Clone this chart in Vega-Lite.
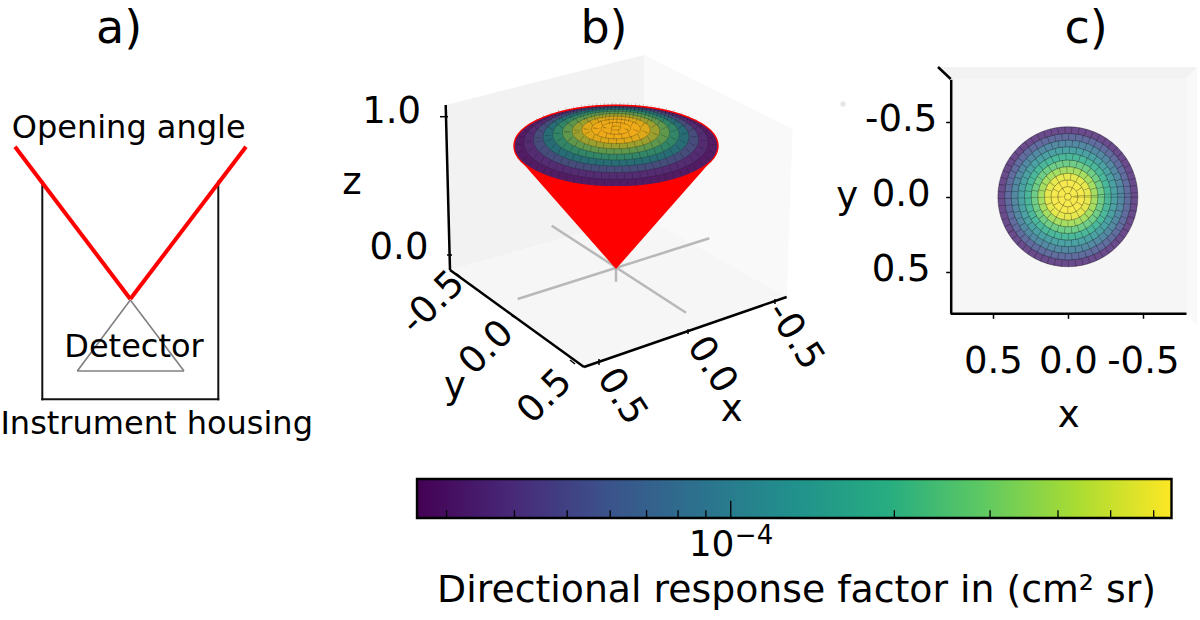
{
"$schema":"https://vega.github.io/schema/vega-lite/v6.json",
"width":1200,"height":620,"padding":0,"autosize":{"type":"fit","contains":"padding"},"background":"white",
"config":{"view":{"stroke":null},"text":{"font":"DejaVu Sans"},"axis":{"labelFont":"DejaVu Sans","titleFont":"DejaVu Sans"}},
"datasets":{
"panes":[
{"pane":"bL","x":445.7,"y":105,"y2":105},{"pane":"bL","x":450,"y":103.9,"y2":270},{"pane":"bL","x":644,"y":55,"y2":216},
{"pane":"bF","x":450,"y":270,"y2":270},{"pane":"bF","x":584,"y":232.7,"y2":367},{"pane":"bF","x":644,"y":216,"y2":346.3},{"pane":"bF","x":786.7,"y":297,"y2":297},
{"pane":"bR","x":644,"y":55,"y2":216},{"pane":"bR","x":786.7,"y":126,"y2":297},{"pane":"bR","x":792.7,"y":129,"y2":129},
{"pane":"cT","x":938,"y":67,"y2":67},{"pane":"cT","x":950,"y":67,"y2":79},{"pane":"cT","x":1186,"y":67,"y2":79},{"pane":"cT","x":1197,"y":67,"y2":67},
{"pane":"cR","x":1186,"y":79,"y2":313},{"pane":"cR","x":1197,"y":67,"y2":325},
{"pane":"cF","x":950,"y":79,"y2":313},{"pane":"cF","x":1186,"y":79,"y2":313}
],
"cone":[{"x":520,"y":160,"y2":160},{"x":616,"y":160,"y2":269},{"x":712,"y":160,"y2":160}],
"rings":[
{"ring":1,"rho":0.4667,"mid":0.4447,"z":0.8725,"zmid":0.8847,"v":3.65e-5},
{"ring":2,"rho":0.4223,"mid":0.4,"z":0.8969,"zmid":0.9075,"v":5.35e-5},
{"ring":3,"rho":0.378,"mid":0.356,"z":0.9182,"zmid":0.9275,"v":8.37e-5},
{"ring":4,"rho":0.3337,"mid":0.3113,"z":0.9368,"zmid":0.9448,"v":1.23e-4},
{"ring":5,"rho":0.2893,"mid":0.2673,"z":0.9528,"zmid":0.9596,"v":1.8e-4},
{"ring":6,"rho":0.245,"mid":0.2227,"z":0.9664,"zmid":0.972,"v":2.64e-4},
{"ring":7,"rho":0.2007,"mid":0.1787,"z":0.9775,"zmid":0.982,"v":3.88e-4},
{"ring":8,"rho":0.1563,"mid":0.134,"z":0.9864,"zmid":0.9898,"v":5.69e-4},
{"ring":9,"rho":0.112,"mid":0.09,"z":0.9931,"zmid":0.9953,"v":6.26e-4},
{"ring":10,"rho":0.0677,"mid":0.0453,"z":0.9975,"zmid":0.9986,"v":6.3e-4},
{"ring":11,"rho":0.0233,"mid":null,"z":0.9997,"zmid":null,"v":6.3e-4}
],
"cbTicks":[
{"v":3e-5,"b":0,"len":0.2},{"v":4e-5,"b":0,"len":0.2},{"v":5e-5,"b":0,"len":0.2},{"v":6e-5,"b":0,"len":0.2},{"v":7e-5,"b":0,"len":0.2},{"v":8e-5,"b":0,"len":0.2},{"v":9e-5,"b":0,"len":0.2},
{"v":1e-4,"b":0,"len":0.44},{"v":2e-4,"b":0,"len":0.2},{"v":3e-4,"b":0,"len":0.2},{"v":4e-4,"b":0,"len":0.2},{"v":5e-4,"b":0,"len":0.2},{"v":6e-4,"b":0,"len":0.2}
]
},
"resolve":{"scale":{"x":"independent","y":"independent","color":"independent","size":"independent"}},
"layer":[
{
"encoding":{
"x":{"field":"x","type":"quantitative","axis":null,"scale":{"domain":[0,1200],"range":[0,1200],"nice":false,"zero":false}},
"y":{"field":"y","type":"quantitative","axis":null,"scale":{"domain":[0,620],"range":[0,620],"nice":false,"zero":false}}
},
"layer":[
{"data":{"name":"panes"},"mark":{"type":"area","orient":"vertical","interpolate":"linear"},
 "encoding":{"y2":{"field":"y2"},"color":{"field":"pane","type":"nominal","legend":null,"scale":{"domain":["bL","bF","bR","cT","cR","cF"],"range":["#f2f2f2","#f6f6f6","#f9f9f9","#f2f2f2","#f9f9f9","#f6f6f6"]}}}},
{"data":{"values":[{"x":843,"y":104}]},"mark":{"type":"point","filled":true,"color":"#e6e6e6","size":28,"opacity":1}},
{"data":{"values":[{"x":42.3,"y":181.7,"x2":42.3,"y2":399.3},{"x":42.3,"y":399.3,"x2":218.3,"y2":399.3},{"x":218.3,"y":399.3,"x2":218.3,"y2":181.7}]},
 "mark":{"type":"rule","color":"#111111","strokeWidth":2,"strokeCap":"square"},"encoding":{"x2":{"field":"x2"},"y2":{"field":"y2"}}},
{"data":{"values":[{"x":130.3,"y":300,"x2":77.3,"y2":371},{"x":77.3,"y":371,"x2":184,"y2":371},{"x":184,"y":371,"x2":130.3,"y2":300}]},
 "mark":{"type":"rule","color":"#808080","strokeWidth":1.6},"encoding":{"x2":{"field":"x2"},"y2":{"field":"y2"}}},
{"data":{"values":[{"x":15,"y":146.7,"x2":130.3,"y2":299},{"x":130.3,"y":299,"x2":246,"y2":146.7}]},
 "mark":{"type":"rule","color":"#ff0000","strokeWidth":4},"encoding":{"x2":{"field":"x2"},"y2":{"field":"y2"}}},
{"data":{"values":[{"x":517.7,"y":299,"x2":709.3,"y2":238.3},{"x":551.7,"y":225.7,"x2":686,"y2":312.7},{"x":616,"y":269,"x2":616,"y2":281.7}]},
 "mark":{"type":"rule","color":"#b8b8b8","strokeWidth":2.5},"encoding":{"x2":{"field":"x2"},"y2":{"field":"y2"}}},
{"data":{"values":[{"x":445.7,"y":105,"x2":450,"y2":270},{"x":450,"y":270,"x2":584,"y2":367},{"x":584,"y":367,"x2":786.7,"y2":297},{"x":938,"y":67,"x2":950.7,"y2":79}]},
 "mark":{"type":"rule","color":"#000000","strokeWidth":2.5},"encoding":{"x2":{"field":"x2"},"y2":{"field":"y2"}}},
{"data":{"values":[{"x":440,"y":116.7,"x2":448,"y2":116.7},{"x":447,"y":255,"x2":452,"y2":255},{"x":456,"y":273.5,"x2":460,"y2":276.5},{"x":511.7,"y":315.7,"x2":516.7,"y2":318.3},{"x":570,"y":360,"x2":575,"y2":364},{"x":599,"y":359,"x2":599,"y2":365},{"x":688,"y":329.3,"x2":688,"y2":334},{"x":775,"y":299,"x2":775,"y2":304}]},
 "mark":{"type":"rule","color":"#000000","strokeWidth":1.5},"encoding":{"x2":{"field":"x2"},"y2":{"field":"y2"}}},
{"data":{"name":"cone"},"mark":{"type":"area","orient":"vertical","color":"#ff0000","interpolate":"linear"},"encoding":{"y2":{"field":"y2"}}},
{"data":{"values":[{"x":119,"y":43,"t":"a)"},{"x":604,"y":43,"t":"b)"},{"x":1086,"y":43,"t":"c)"}]},
 "mark":{"type":"text","fontSize":46,"align":"center","baseline":"alphabetic","color":"#000"},"encoding":{"text":{"field":"t"}}},
{"data":{"values":[{"x":128.7,"y":138.3,"t":"Opening angle"},{"x":134,"y":356.7,"t":"Detector"},{"x":156.7,"y":434.3,"t":"Instrument housing"}]},
 "mark":{"type":"text","fontSize":32,"align":"center","baseline":"alphabetic","color":"#000"},"encoding":{"text":{"field":"t"}}},
{"data":{"values":[{"x":391.7,"y":111.7,"t":"1.0"},{"x":399,"y":248,"t":"0.0"},{"x":352,"y":183,"t":"z"},{"x":455,"y":386.7,"t":"y"},{"x":731.7,"y":410,"t":"x"}]},
 "mark":{"type":"text","fontSize":37,"align":"center","baseline":"middle","color":"#000"},"encoding":{"text":{"field":"t"}}},
{"data":{"values":[{"x":711.6,"y":545,"t":"10"}]},
 "mark":{"type":"text","fontSize":36,"align":"center","baseline":"middle","color":"#000"},"encoding":{"text":{"field":"t"}}},
{"data":{"values":[{"x":433,"y":303,"t":"-0.5"},{"x":486.7,"y":348,"t":"0.0"},{"x":545,"y":396.7,"t":"0.5"}]},
 "mark":{"type":"text","fontSize":37,"angle":315,"align":"center","baseline":"middle","color":"#000"},"encoding":{"text":{"field":"t"}}},
{"data":{"values":[{"x":621.7,"y":396.7,"t":"0.5"},{"x":711.7,"y":365,"t":"0.0"},{"x":795,"y":336,"t":"-0.5"}]},
 "mark":{"type":"text","fontSize":37,"angle":57,"align":"center","baseline":"middle","color":"#000"},"encoding":{"text":{"field":"t"}}},
{"data":{"values":[{"x":754,"y":536,"t":"−4"}]},
 "mark":{"type":"text","fontSize":26,"align":"center","baseline":"middle","color":"#000"},"encoding":{"text":{"field":"t"}}},
{"data":{"values":[{"x":796.5,"y":591,"t":"Directional response factor in (cm² sr)"}]},
 "mark":{"type":"text","fontSize":37.8,"align":"center","baseline":"middle","color":"#000"},"encoding":{"text":{"field":"t"}}}
]
},
{
"data":{"name":"rings"},
"encoding":{
"x":{"datum":0,"type":"quantitative","axis":null,"scale":{"domain":[-1,1],"range":[466,766],"nice":false,"zero":false}}
},
"layer":[
{"mark":{"type":"point","shape":"M-1,0A1,0.4 0 1,1 1,0A1,0.4 0 1,1 -1,0Z","filled":true,"opacity":1,"strokeWidth":0},
 "encoding":{
 "y":{"field":"z","type":"quantitative","axis":null,"scale":{"domain":[0,1],"range":[269,128],"nice":false,"zero":false}},
 "size":{"field":"rho","type":"quantitative","legend":null,"scale":{"type":"pow","exponent":2,"domain":[0,0.4667],"range":[0,41616]}},
 "color":{"field":"v","type":"quantitative","legend":null,"scale":{"type":"log","domain":[2.65e-5,3.95e-5,5.89e-5,8.78e-5,1.309e-4,1.952e-4,2.911e-4,4.34e-4,6.47e-4],"range":["#4a1058","#55206a","#543075","#46507a","#2f7070","#3a8a62","#6e9a45","#b0a028","#f4aa18"]}},
 "order":{"field":"ring","type":"quantitative"}}},
{"transform":[{"filter":"datum.mid != null"}],
 "mark":{"type":"point","shape":"M-1,0A1,0.4 0 1,1 1,0A1,0.4 0 1,1 -1,0Z","filled":false,"color":"#101010","strokeWidth":6,"strokeDash":[0.7,7],"opacity":0.3},
 "encoding":{
 "y":{"field":"zmid","type":"quantitative","axis":null,"scale":{"domain":[0,1],"range":[269,128],"nice":false,"zero":false}},
 "size":{"field":"mid","type":"quantitative","legend":null,"scale":{"type":"pow","exponent":2,"domain":[0,0.4667],"range":[0,41616]}}}},
{"mark":{"type":"point","shape":"M-1,0A1,0.4 0 1,1 1,0A1,0.4 0 1,1 -1,0Z","filled":false,"color":"#101010","strokeWidth":0.8,"opacity":0.3},
 "encoding":{
 "y":{"field":"z","type":"quantitative","axis":null,"scale":{"domain":[0,1],"range":[269,128],"nice":false,"zero":false}},
 "size":{"field":"rho","type":"quantitative","legend":null,"scale":{"type":"pow","exponent":2,"domain":[0,0.4667],"range":[0,41616]}}}},
{"transform":[{"filter":"datum.ring == 1"}],
 "mark":{"type":"point","shape":"M-1,0A1,0.4 0 1,1 1,0A1,0.4 0 1,1 -1,0Z","filled":false,"color":"#ff0000","strokeWidth":1.4,"opacity":1},
 "encoding":{
 "y":{"field":"z","type":"quantitative","axis":null,"scale":{"domain":[0,1],"range":[269,128],"nice":false,"zero":false}},
 "size":{"field":"rho","type":"quantitative","legend":null,"scale":{"type":"pow","exponent":2,"domain":[0,0.4667],"range":[0,41616]}}}}
]
},
{
"data":{"name":"rings"},
"encoding":{
"x":{"datum":0,"type":"quantitative",
 "scale":{"domain":[0.785,-0.788],"range":[950.2,1186],"nice":false,"zero":false},
 "axis":{"title":"x","zindex":1,"orient":"bottom","offset":-306.7,"values":[0.5,0,-0.5],"grid":false,"domainColor":"#000","domainWidth":2.5,"tickColor":"#000","tickWidth":1.5,"tickSize":5,"labelFontSize":37,"labelColor":"#000","labelPadding":25,"labelOverlap":false,"labelFlush":false,"labelBound":false,"labelExpr":"datum.value == 0 ? '0.0' : datum.value > 0 ? '0.5' : '-0.5'","titleFontSize":37,"titleColor":"#000","titleFontWeight":"normal","titlePadding":18}},
"y":{"datum":0,"type":"quantitative",
 "scale":{"domain":[-0.783,0.777],"range":[79.3,313.3],"nice":false,"zero":false},
 "axis":{"title":"y","zindex":1,"orient":"left","offset":-950.7,"values":[-0.5,0,0.5],"grid":false,"domainColor":"#000","domainWidth":2.5,"tickColor":"#000","tickWidth":1.5,"tickSize":5,"labelFontSize":37,"labelColor":"#000","labelAlign":"center","labelPadding":45,"labelOffset":-2.5,"labelOverlap":false,"labelFlush":false,"labelBound":false,"labelExpr":"datum.value == 0 ? '0.0' : datum.value > 0 ? '0.5' : '-0.5'","titleFontSize":37,"titleColor":"#000","titleFontWeight":"normal","titleAngle":0,"titlePadding":18,"titleBaseline":"middle"}}
},
"layer":[
{"mark":{"type":"point","shape":"circle","filled":true,"opacity":1,"strokeWidth":0},
 "encoding":{
 "size":{"field":"rho","type":"quantitative","legend":null,"scale":{"type":"pow","exponent":2,"domain":[0,0.4667],"range":[0,19600]}},
 "color":{"field":"v","type":"quantitative","legend":null,"scale":{"type":"log","domain":[2.65e-5,3.95e-5,5.89e-5,8.78e-5,1.309e-4,1.952e-4,2.911e-4,4.34e-4,6.47e-4],"range":["#683275","#6b5191","#6073a1","#548ca3","#4ca5a1","#50bc98","#7cd280","#b9e159","#fcea4f"]}},
 "order":{"field":"ring","type":"quantitative"}}},
{"transform":[{"filter":"datum.mid != null"}],
 "mark":{"type":"point","shape":"circle","filled":false,"color":"#101010","strokeWidth":6.6,"strokeDash":[0.7,6.2],"opacity":0.4},
 "encoding":{"size":{"field":"mid","type":"quantitative","legend":null,"scale":{"type":"pow","exponent":2,"domain":[0,0.4667],"range":[0,19600]}}}},
{"mark":{"type":"point","shape":"circle","filled":false,"color":"#101010","strokeWidth":0.8,"opacity":0.45},
 "encoding":{"size":{"field":"rho","type":"quantitative","legend":null,"scale":{"type":"pow","exponent":2,"domain":[0,0.4667],"range":[0,19600]}}}}
]
},
{
"encoding":{
"x":{"field":"v","type":"quantitative","axis":null,"scale":{"type":"log","domain":[2.647e-5,6.47e-4],"range":[417,1171.5],"nice":false}},
"y":{"field":"b","type":"quantitative","axis":null,"scale":{"domain":[0,1],"range":[518,479],"nice":false,"zero":false}}
},
"layer":[
{"data":{"values":[{"v":2.647e-5,"hi":6.47e-4,"b":0,"t":1}]},
 "mark":{"type":"rect","stroke":"#000","strokeWidth":2.4,"fill":{"gradient":"linear","x1":0,"x2":1,"y1":0,"y2":0,"stops":[{"offset":0,"color":"#440154"},{"offset":0.125,"color":"#482878"},{"offset":0.25,"color":"#3b528b"},{"offset":0.375,"color":"#2c728e"},{"offset":0.5,"color":"#21918c"},{"offset":0.625,"color":"#27ad81"},{"offset":0.75,"color":"#5ec962"},{"offset":0.875,"color":"#aadc32"},{"offset":1,"color":"#fde725"}]}},
 "encoding":{"x2":{"field":"hi"},"y2":{"field":"t"}}},
{"data":{"name":"cbTicks"},"mark":{"type":"rule","color":"#000","strokeWidth":1.3},
 "encoding":{"y2":{"field":"len"}}}
]
}
]
}
